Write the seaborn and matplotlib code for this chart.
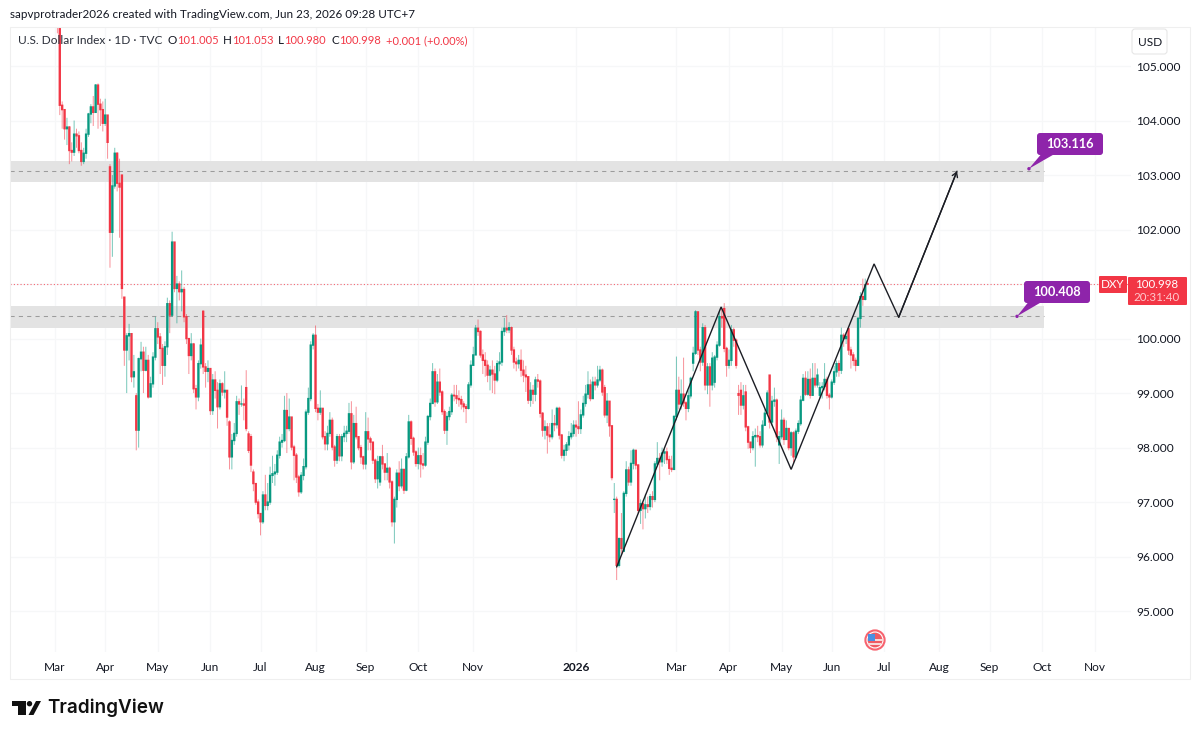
import numpy as np
import pandas as pd
import seaborn as sns
import matplotlib
matplotlib.use("Agg")
import matplotlib.pyplot as plt
from matplotlib.patches import Circle, FancyBboxPatch, Polygon, Rectangle
from matplotlib.transforms import Affine2D

# Daily closes, highs and lows of the U.S. Dollar Index, bars 1..340
closes = [
 105.90,104.28,104.20,103.85,103.88,103.45,103.42,103.75,103.72,103.45,
 103.25,103.40,103.75,104.12,104.25,104.15,104.65,104.30,104.20,103.95,
 104.10,103.60,101.95,102.80,103.40,102.85,102.78,100.92,99.79,100.05,
 100.09,99.30,99.39,98.32,99.63,99.75,99.42,99.60,98.93,99.17,
 99.66,100.18,100.03,99.82,99.51,99.85,100.64,100.43,101.77,100.92,
 101.00,100.86,100.90,100.40,100.00,99.69,99.90,99.08,98.93,99.54,
 99.88,99.48,99.40,99.45,98.68,99.24,99.05,98.75,99.17,99.02,
 99.05,98.56,97.83,98.13,98.26,98.84,98.80,98.80,98.78,98.35,
 97.95,97.68,97.34,97.00,96.79,96.64,97.13,96.94,97.00,97.49,
 97.52,97.55,97.86,98.10,98.13,98.68,98.35,98.56,98.01,97.86,
 97.46,97.19,97.49,97.65,98.65,98.90,99.88,100.06,98.72,98.65,
 98.72,98.20,98.07,98.26,98.50,98.01,97.77,98.20,97.85,98.20,
 98.26,98.30,98.62,97.74,98.44,98.20,98.00,97.83,97.70,98.29,
 98.16,98.10,97.77,97.43,97.74,97.83,97.70,97.55,97.62,97.37,
 96.64,97.05,97.53,97.30,97.60,97.22,97.83,98.47,98.17,97.92,
 97.71,97.85,97.70,97.68,98.10,98.57,98.81,99.39,98.84,99.20,
 99.02,98.66,98.32,98.57,98.66,98.96,98.95,98.90,98.88,98.80,
 98.75,98.72,99.15,99.51,99.70,100.19,100.13,99.70,99.60,99.51,
 99.33,99.42,99.35,99.24,99.54,99.57,100.13,100.19,100.16,100.20,
 99.79,99.57,99.54,99.60,99.42,99.33,99.30,98.87,99.05,98.98,
 99.24,99.22,98.63,98.32,98.38,98.23,98.20,98.44,98.42,98.72,
 98.23,97.86,97.95,98.05,98.20,98.26,98.41,98.38,98.35,98.60,
 98.81,98.98,99.15,98.90,99.20,99.15,99.24,99.42,99.02,98.60,
 98.85,98.40,97.45,97.05,95.84,96.33,96.15,97.16,97.59,97.37,
 97.71,97.95,97.68,96.85,96.97,96.88,96.95,96.92,97.10,97.05,
 97.70,97.80,97.74,97.90,97.92,97.78,97.62,97.60,98.57,99.05,
 98.80,98.98,98.82,98.72,98.95,99.27,99.73,100.49,99.79,99.57,
 100.20,99.15,99.48,99.15,99.64,99.66,99.88,100.40,100.38,99.82,
 99.51,99.60,100.16,99.97,99.51,98.96,98.78,98.95,98.38,98.10,
 98.00,98.20,98.22,98.20,98.05,98.41,98.63,99.00,98.47,98.85,
 98.87,98.20,98.20,98.50,98.15,98.35,98.00,98.27,97.83,98.30,
 98.44,98.87,99.27,98.98,99.25,98.96,99.27,99.15,99.33,99.10,99.12,
 99.25,98.96,98.93,99.20,99.39,99.54,99.42,100.06,100.00,100.04,
 99.79,99.70,99.60,99.51,100.37,100.77,100.72,100.98,100.998,
]
highs = [
 107.20,106.10,104.35,104.20,104.05,103.90,103.60,104.00,103.85,103.80,
 103.60,103.50,103.85,104.14,104.30,104.45,104.67,104.68,104.40,104.35,
 104.40,104.10,103.20,103.00,103.50,103.42,103.30,103.00,100.76,100.10,
 100.27,100.10,99.70,99.00,99.65,99.94,99.85,99.85,99.70,99.30,
 99.75,100.40,100.30,100.10,99.90,99.95,100.75,100.70,101.96,101.75,
 101.15,101.05,101.25,100.95,100.45,99.95,100.10,99.92,99.15,99.60,
 100.00,100.52,99.55,99.60,99.45,99.35,99.40,99.20,99.25,99.20,
 99.40,99.05,98.50,98.25,98.45,98.95,98.90,99.14,98.90,99.42,
 98.30,98.25,97.60,97.35,97.05,96.80,97.20,97.50,97.35,97.65,
 97.85,97.70,97.95,98.20,98.25,98.95,99.00,98.90,98.55,98.05,
 97.90,97.50,97.55,97.80,98.70,99.10,99.95,100.10,100.24,98.80,
 99.05,98.72,98.30,98.40,98.65,98.55,98.05,98.25,98.25,98.25,
 98.40,98.40,98.82,98.85,98.60,98.75,98.20,98.05,97.85,98.65,
 98.55,98.20,98.10,97.80,97.85,97.85,98.05,97.70,97.90,97.65,
 97.40,97.10,97.60,97.75,97.80,97.60,97.90,98.60,98.50,98.20,
 97.95,98.00,98.00,97.90,98.20,98.60,98.90,99.55,99.45,99.35,
 99.45,99.05,98.70,98.65,98.75,99.00,99.15,99.15,99.05,98.95,
 98.85,98.80,99.20,99.60,99.85,100.25,100.35,100.15,99.80,99.75,
 99.60,99.50,99.60,99.50,99.60,99.75,100.20,100.38,100.43,100.30,
 100.22,99.85,99.65,99.70,99.80,99.60,99.50,99.30,99.20,99.15,
 99.30,99.35,99.25,98.65,98.50,98.45,98.45,98.70,98.60,98.75,
 98.75,98.25,98.05,98.10,98.30,98.45,98.50,98.50,98.85,98.70,
 98.95,99.15,99.40,99.25,99.30,99.30,99.50,99.50,99.45,99.15,
 99.00,98.85,98.35,97.35,97.10,96.35,96.80,97.20,97.75,97.65,
 97.95,97.98,97.95,97.70,97.05,97.00,97.15,97.10,97.15,97.20,
 97.75,98.10,97.90,98.00,98.00,98.00,97.85,97.85,98.60,99.67,
 99.30,99.25,99.65,98.85,99.05,99.30,99.85,100.52,100.48,99.85,
 100.28,100.25,99.55,99.55,99.75,99.70,99.95,100.50,100.55,100.65,
 99.85,99.80,100.25,100.20,100.00,99.15,99.20,99.15,99.15,98.40,
 98.10,98.30,98.35,98.40,98.30,98.50,98.70,99.05,99.33,98.95,
 99.10,98.90,98.30,98.70,98.55,98.50,98.35,98.30,98.30,98.35,
 98.50,98.95,99.35,99.40,99.40,99.45,99.55,99.55,99.45,99.20,99.20,
 99.55,99.30,99.00,99.25,99.50,99.60,99.60,100.20,100.10,100.12,
 100.20,99.85,99.75,99.65,100.40,100.85,101.10,101.10,101.053,
]
lows = [
 105.60,104.10,103.85,103.65,103.55,103.20,103.25,103.35,103.50,103.40,
 103.17,103.20,103.30,103.70,103.95,103.90,104.15,103.85,103.90,103.80,
 103.90,103.30,101.30,101.50,102.75,102.70,101.85,100.73,99.50,99.00,
 99.60,99.20,99.10,97.95,98.00,99.40,99.00,99.40,98.90,98.95,
 99.10,99.60,99.90,99.35,99.15,99.30,99.70,100.10,100.40,100.85,
 100.28,100.70,100.50,100.30,99.90,99.35,99.60,99.00,98.70,98.85,
 99.45,99.35,99.10,99.20,98.60,98.60,98.90,98.35,98.70,98.95,
 98.90,98.40,97.60,97.60,98.05,98.20,98.60,98.75,98.50,98.30,
 97.90,97.55,97.20,96.95,96.70,96.39,96.60,96.85,96.85,96.95,
 97.35,97.30,97.50,97.80,98.00,98.10,97.90,98.30,97.95,97.40,
 97.35,97.10,97.15,97.40,97.60,98.60,98.85,99.80,98.65,98.50,
 98.60,98.15,97.95,97.95,98.20,97.95,97.65,97.70,97.75,97.75,
 98.10,98.10,98.25,97.60,97.70,98.15,97.95,97.70,97.60,97.60,
 97.95,97.95,97.70,97.35,97.25,97.30,97.60,97.40,97.40,97.25,
 96.55,96.24,96.90,97.20,97.25,97.15,97.20,97.80,98.05,97.85,
 97.65,97.60,97.45,97.60,97.65,98.05,98.50,98.80,98.75,98.80,
 98.95,98.60,98.25,98.05,98.50,98.60,98.85,98.80,98.75,98.70,
 98.65,98.45,98.70,99.10,99.50,99.70,100.05,99.65,99.35,99.30,
 99.20,99.05,99.00,98.98,99.20,99.40,99.50,100.05,100.10,100.10,
 99.70,99.45,99.40,99.45,99.30,99.20,99.02,98.80,98.75,98.80,
 98.85,99.10,98.55,98.20,98.15,97.89,98.10,98.15,98.30,98.35,
 98.15,97.80,97.75,97.85,97.95,98.15,98.20,98.20,98.25,98.25,
 98.55,98.75,98.90,98.85,98.95,99.05,99.10,99.20,98.95,98.55,
 98.45,98.20,97.40,96.80,95.57,95.80,96.05,96.10,97.10,97.30,
 97.30,97.60,97.60,96.80,96.60,96.50,96.70,96.80,96.85,96.90,
 97.00,97.65,97.40,97.65,97.70,97.70,97.50,97.55,97.65,98.50,
 98.70,98.70,98.75,98.50,98.65,98.90,99.40,99.70,99.70,99.40,
 99.50,99.05,98.98,98.75,99.05,99.10,99.60,99.85,100.20,99.75,
 99.30,99.45,99.50,99.85,99.45,98.60,98.60,98.70,98.30,97.98,
 97.90,97.95,97.65,98.10,98.00,98.00,98.40,98.60,98.35,98.40,
 98.75,98.10,97.70,98.15,98.05,98.20,97.95,97.85,97.70,97.80,
 98.25,98.40,98.85,98.95,98.95,98.90,98.95,99.10,99.10,98.90,98.90,
 99.05,98.90,98.70,98.90,99.15,99.30,99.30,99.35,99.85,99.90,
 99.70,99.45,99.50,99.40,99.50,100.20,100.60,100.70,100.98,
]
first_open = 106.80
# Sessions that did not open at the prior close
session_gaps = {23: 103.15, 28: 103.00, 29: 100.76, 34: 98.95, 62: 100.50, 73: 98.47,
                80: 99.10, 81: 98.25, 82: 98.20, 83: 97.55, 130: 97.70, 136: 97.37,
                230: 99.10, 234: 97.05, 235: 97.05, 238: 96.10, 267: 99.55, 276: 99.20,
                280: 100.55, 286: 98.99, 287: 99.05, 289: 99.02, 299: 99.33, 303: 98.05,
                305: 98.50, 320: 98.96, 332: 100.18, 340: 101.005}

price_ticks = [95, 96, 97, 98, 99, 100, 101, 102, 103, 104, 105]
covered_tick = 101  # sits under the last-price tag, so it carries no label
month_dates = ["2025-03-03", "2025-04-01", "2025-05-01", "2025-06-02", "2025-07-01", "2025-08-01",
               "2025-09-01", "2025-10-01", "2025-11-03", "2026-01-01", "2026-03-02", "2026-04-01",
               "2026-05-01", "2026-06-01", "2026-07-01", "2026-08-03", "2026-09-01", "2026-10-01",
               "2026-11-02"]
month_labels = ["Mar", "Apr", "May", "Jun", "Jul", "Aug", "Sep", "Oct", "Nov", "2026", "Mar", "Apr",
                "May", "Jun", "Jul", "Aug", "Sep", "Oct", "Nov"]

# Hand-drawn projection path (session, price) and the two supply/demand zones
path_bars = [235.0, 278.7, 308.0, 342.7, 353.0, 377.4]
path_prices = [95.81, 100.58, 97.60, 101.37, 100.39, 103.07]
zone_levels = [103.116, 100.408]
zone_tops = [103.26, 100.60]
zone_bottoms = [102.87, 100.20]
zone_end_date = "2026-10-02"
label_bars = [407.5, 402.5]
last_close = 100.998

RED, GREEN = "#F23645", "#089981"
PURPLE = "#8E24AA"
INK = "#131722"
W, H, DPI = 1200, 737, 100

sns.set_style("white")
plt.rcParams["font.family"] = ["Lato", "DejaVu Sans"]

fig = plt.figure(figsize=(W / DPI, H / DPI), dpi=DPI, facecolor="white")
px = Affine2D().scale(1, -1).translate(0, H)  # top-left pixel coordinates
ax = fig.add_axes([10 / W, 1 - 652 / H, 1121 / W, 625 / H])

calendar = pd.bdate_range("2025-03-03", periods=470)
tick_bars = [int(calendar.searchsorted(pd.Timestamp(d))) for d in month_dates]
zone_end = int(calendar.searchsorted(pd.Timestamp(zone_end_date)))

bars = np.arange(1, len(closes) + 1)
opens = np.r_[first_open, closes[:-1]]
for bar, value in session_gaps.items():
    opens[bar - 1] = value
frame = pd.DataFrame({"bar": bars, "open": opens, "high": highs, "low": lows, "close": closes})
frame["side"] = np.where(frame["close"] >= frame["open"], "up", "down")
frame["body_top"] = frame[["open", "close"]].max(axis=1) + 0.012
frame["body_bottom"] = frame[["open", "close"]].min(axis=1) - 0.012

ax.set_xlim(-18.83, 450.2)
ax.set_ylim(94.25, 105.716)

ax.set_xticks(tick_bars)
ax.set_xticklabels(month_labels)
ax.set_yticks(price_ticks)
ax.set_yticklabels(["" if t == covered_tick else f"{t:.3f}" for t in price_ticks])
ax.yaxis.tick_right()
ax.tick_params(axis="both", length=0, labelsize=8.6, labelcolor=INK)
ax.tick_params(axis="x", pad=7)
ax.tick_params(axis="y", pad=4)
for lab, text in zip(ax.get_xticklabels(), month_labels):
    if text == "2026":
        lab.set_fontweight("bold")
ax.grid(True, color="#f6f7f8", lw=0.9)
ax.set_axisbelow(True)
for spine in ax.spines.values():
    spine.set_visible(False)

# Zones with their dashed mid levels
for level, top, bottom in zip(zone_levels, zone_tops, zone_bottoms):
    ax.add_patch(Rectangle((-18.83, bottom), zone_end + 18.83, top - bottom,
                           facecolor="#e3e3e3", edgecolor="none", zorder=1))
    ax.plot([-18.83, zone_end], [level - 0.05 if level > 102 else level] * 2, color="#9c9c9c",
            lw=0.75, ls=(0, (4, 4)), zorder=1.5)

# Last price line
ax.axhline(last_close, color=RED, lw=0.8, ls=(0, (1, 2)), alpha=0.75, zorder=1.5)

# Candles: one wick and one body per session
wicks = frame.melt(id_vars=["bar", "side"], value_vars=["low", "high"], value_name="price")
sns.lineplot(data=wicks, x="bar", y="price", units="bar", estimator=None, hue="side",
             palette={"up": GREEN, "down": RED}, lw=0.7, alpha=0.55, sort=False, legend=False,
             ax=ax, zorder=3, solid_capstyle="butt", snap=False)
bodies = frame.melt(id_vars=["bar", "side"], value_vars=["body_bottom", "body_top"], value_name="price")
sns.lineplot(data=bodies, x="bar", y="price", units="bar", estimator=None, hue="side",
             palette={"up": GREEN, "down": RED}, lw=1.7, sort=False, legend=False,
             ax=ax, zorder=4, solid_capstyle="butt", snap=False)
ax.set_xlabel("")
ax.set_ylabel("")

# Projection path with an open arrowhead
sns.lineplot(x=path_bars, y=path_prices, sort=False, estimator=None, color="#1b1d24", lw=1.0,
             ax=ax, zorder=5, solid_joinstyle="miter")
ax.annotate("", xy=(path_bars[-1], path_prices[-1]), xytext=(path_bars[-2], path_prices[-2]),
            arrowprops=dict(arrowstyle="->,head_length=0.32,head_width=0.2", color="#1b1d24",
                            lw=1.0, shrinkA=0, shrinkB=0), zorder=5)

# Panel frame
fig.add_artist(Rectangle((10, 27), 1180, 652, transform=px, facecolor="none", edgecolor="#efefef", lw=0.8))


def callout(bar, level, box_left, box_top, text):
    """Purple price note tied to a point on the chart by a short tail."""
    x, y = ax.transData.transform((bar, level))
    y = H - y
    w, h = 66, 22
    fig.add_artist(Polygon([(x, y), (box_left + 6, box_top + h - 3), (box_left + 21, box_top + h - 3)],
                           transform=px, facecolor=PURPLE, edgecolor="none", zorder=6))
    fig.add_artist(Circle((x, y), 1.7, transform=px, facecolor=PURPLE, edgecolor="none", zorder=6))
    fig.add_artist(FancyBboxPatch((box_left + 3, box_top + 3), w - 6, h - 6,
                                  boxstyle="round,pad=3,rounding_size=3", transform=px,
                                  facecolor=PURPLE, edgecolor="none", zorder=6))
    fig.text((box_left + w / 2) / W, 1 - (box_top + h / 2) / H, text, color="white", fontsize=9.2,
             fontweight="bold", ha="center", va="center", zorder=7)


callout(label_bars[0], zone_levels[0], 1037, 133, f"{zone_levels[0]:.3f}")
callout(label_bars[1], zone_levels[1], 1024, 281, f"{zone_levels[1]:.3f}")


def label(x, y, text, **kw):
    kw.setdefault("color", INK)
    kw.setdefault("fontsize", 8.0)
    kw.setdefault("va", "center")
    return fig.text(x / W, 1 - y / H, text, **kw)


# Header and symbol strip
label(10, 15, "sapvprotrader2026 created with TradingView.com, Jun 23, 2026 09:28 UTC+7", fontsize=8.35)
label(18, 41, "U.S. Dollar Index · 1D · TVC", color="#2a2e39", fontsize=8.6)
for x, letter, x2, value in [(167, "O", 177, "101.005"), (223, "H", 232, "101.053"),
                             (278, "L", 284, "100.980"), (331, "C", 339, "100.998")]:
    label(x, 41, letter, fontsize=8.4)
    label(x2, 41, value, color=RED)
label(386, 41, "+0.001 (+0.00%)", color=RED)

# Currency button
fig.add_artist(FancyBboxPatch((1134, 31), 31, 21, boxstyle="round,pad=2,rounding_size=3", transform=px,
                              facecolor="white", edgecolor="#e6e6e6", lw=0.8))
label(1150, 42, "USD", ha="center", fontsize=8.6)

# Last price tags
fig.add_artist(FancyBboxPatch((1100, 277), 26, 15, boxstyle="round,pad=1,rounding_size=1", transform=px,
                              facecolor=RED, edgecolor="none"))
label(1113, 285, "DXY", color="white", ha="center", fontsize=8.4)
fig.add_artist(FancyBboxPatch((1129, 278), 57, 26, boxstyle="round,pad=1,rounding_size=1", transform=px,
                              facecolor=RED, edgecolor="none"))
label(1157, 284.5, f"{last_close:.3f}", color="white", ha="center", fontsize=8.3)
label(1157, 298, "20:31:40", color="#ffc9ce", ha="center", fontsize=8.3)

# Economic-event flag
fig.add_artist(Circle((875, 640), 9.6, transform=px, facecolor="white", edgecolor="#f7636f", lw=1.5, zorder=6))
fig.add_artist(Circle((875, 640), 7.4, transform=px, facecolor="#ef5b63", edgecolor="none", zorder=6))
fig.add_artist(Rectangle((868, 638.5), 14.5, 2.2, transform=px, facecolor="#f7d9d9", edgecolor="none", zorder=6.5))
fig.add_artist(Rectangle((868, 643), 13, 1.8, transform=px, facecolor="#f7d9d9", edgecolor="none", zorder=6.5))
fig.add_artist(Rectangle((868, 634), 7, 6.5, transform=px, facecolor="#4a90e2", edgecolor="none", zorder=6.6))

# Footer wordmark
logo = dict(transform=px, facecolor="#111111", edgecolor="none")
fig.add_artist(Polygon([(12, 701), (26, 701), (26, 715), (18, 715), (18, 706), (12, 706)], **logo))
fig.add_artist(Circle((29.5, 703.7), 2.7, **logo))
fig.add_artist(Polygon([(36, 701), (41, 701), (33.5, 715), (28.5, 715)], **logo))
label(47.5, 708, "TradingView", fontsize=13.6, fontweight="semibold", color="#111111", family="Inter")

fig.savefig("out.png", dpi=DPI)
